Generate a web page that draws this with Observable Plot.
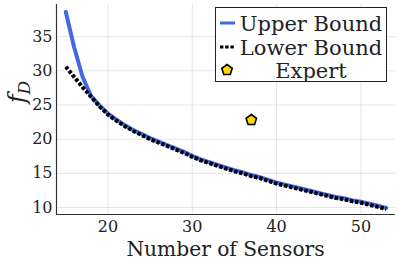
<!DOCTYPE html>
<html>
<head>
<meta charset="utf-8">
<script src="https://cdn.jsdelivr.net/npm/d3@7"></script>
<script src="https://cdn.jsdelivr.net/npm/@observablehq/plot@0.6"></script>
<style>
  html, body { margin: 0; padding: 0; background: white; }
  svg { display: block; }
  svg text { font-family: "DejaVu Serif", "Liberation Serif", "Noto Serif", serif !important; }
</style>
</head>
<body>
<div id="chart"></div>
<script>
const sensors = [15,16,17,18,19,20,21,22,23,24,25,26,27,28,29,30,31,32,33,34,35,36,37,38,39,40,41,42,43,44,45,46,47,48,49,50,51,52,53];
const upperBound = [38.6,33.4,29.1,26.3,24.95,23.75,22.85,22.05,21.35,20.75,20.15,19.65,19.15,18.65,18.15,17.55,17.05,16.65,16.25,15.85,15.45,15.15,14.75,14.45,14.05,13.65,13.35,13.05,12.75,12.45,12.15,11.85,11.55,11.35,11.05,10.85,10.55,10.25,9.95];
const lowerBound = [30.6,29.1,27.6,26.2,24.8,23.6,22.7,21.9,21.2,20.6,20.0,19.5,19.0,18.5,18.0,17.4,16.9,16.5,16.1,15.7,15.3,15.0,14.6,14.3,13.9,13.5,13.2,12.9,12.6,12.3,12.0,11.7,11.4,11.2,10.9,10.7,10.4,10.1,9.8];
const expertX = [37];
const expertY = [22.8];
const xTicks = [20, 30, 40, 50];
const yTicks = [10, 15, 20, 25, 30, 35];
const xDomain = [13.9, 54.1];
const yDomain = [8.98, 39.7];
const seriesNames = ["Upper Bound", "Lower Bound", "Expert"];

const upperData = sensors.map((s, i) => ({x: s, y: upperBound[i]}));
const lowerData = sensors.map((s, i) => ({x: s, y: lowerBound[i]}));
const expertData = expertX.map((x, i) => ({x, y: expertY[i]}));

const pentagon = {
  draw(context, size) {
    const R = Math.sqrt(size / 2.3776);
    for (let k = 0; k < 5; k++) {
      const a = -Math.PI / 2 + k * 2 * Math.PI / 5;
      const px = R * Math.cos(a), py = R * Math.sin(a);
      if (k === 0) context.moveTo(px, py); else context.lineTo(px, py);
    }
    context.closePath();
  }
};

const blue = "#4169E1";
const gold = "#FFD700";
const font = "DejaVu Serif";

const chart = Plot.plot({
  width: 399,
  height: 264,
  marginLeft: 56,
  marginRight: 4,
  marginTop: 4,
  marginBottom: 50,
  style: {fontFamily: font, fontSize: "16px", background: "white", color: "#222"},
  x: {domain: xDomain, ticks: xTicks, label: null},
  y: {domain: yDomain, ticks: yTicks, label: null},
  marks: [
    Plot.gridX(xTicks, {stroke: "#000", strokeOpacity: 0.1, strokeWidth: 1}),
    Plot.gridY(yTicks, {stroke: "#000", strokeOpacity: 0.1, strokeWidth: 1}),
    Plot.axisX(xTicks, {tickSize: 0, tickPadding: 6, fontSize: 16, label: null}),
    Plot.axisY(yTicks, {tickSize: 0, tickPadding: 4, fontSize: 16, label: null}),
    Plot.ruleX([xDomain[0]], {stroke: "#333", strokeWidth: 1.2}),
    Plot.ruleY([yDomain[0]], {stroke: "#333", strokeWidth: 1.2}),
    Plot.line(upperData, {x: "x", y: "y", stroke: blue, strokeWidth: 4, curve: "linear"}),
    Plot.line(lowerData, {x: "x", y: "y", stroke: "black", strokeWidth: 4, strokeDasharray: "3.4,1.8", strokeLinecap: "butt"}),
    Plot.dot(expertData, {x: "x", y: "y", symbol: pentagon, r: 4.8, fill: gold, stroke: "black", strokeWidth: 1.6})
  ]
});

const svg = d3.select(chart);

svg.append("text")
  .attr("x", 225.5).attr("y", 256)
  .attr("text-anchor", "middle")
  .style("font-size", "20.2px").attr("fill", "#222")
  .text("Number of Sensors");

const yl = svg.append("text")
  .attr("transform", "translate(25,92) rotate(-90)")
  .attr("text-anchor", "middle")
  .style("font-size", "24px").attr("fill", "#222");
yl.append("tspan").attr("font-style", "italic").text("f");
yl.append("tspan").attr("font-style", "italic").attr("font-size", "17px").attr("dy", 5).text("D");

const lg = svg.append("g");
lg.append("rect").attr("x", 215.5).attr("y", 7.5).attr("width", 171).attr("height", 74)
  .attr("fill", "white").attr("stroke", "#222").attr("stroke-width", 1);
lg.append("line").attr("x1", 220).attr("x2", 235).attr("y1", 23).attr("y2", 23)
  .attr("stroke", blue).attr("stroke-width", 3);
lg.append("line").attr("x1", 220).attr("x2", 235).attr("y1", 47).attr("y2", 47)
  .attr("stroke", "black").attr("stroke-width", 3).attr("stroke-dasharray", "3.4,1.8");
lg.append("path").attr("transform", "translate(227,70)")
  .attr("d", d3.symbol(pentagon, 4.8 * 4.8 * Math.PI)())
  .attr("fill", gold).attr("stroke", "black").attr("stroke-width", 1.6);
const ly = [23, 47, 70];
seriesNames.forEach((name, i) => {
  lg.append("text").attr("x", 311).attr("y", ly[i]).attr("dy", "0.36em")
    .attr("text-anchor", "middle")
    .style("font-size", "21px").attr("fill", "#222")
    .text(name);
});

document.getElementById("chart").appendChild(chart);
</script>
</body>
</html>
